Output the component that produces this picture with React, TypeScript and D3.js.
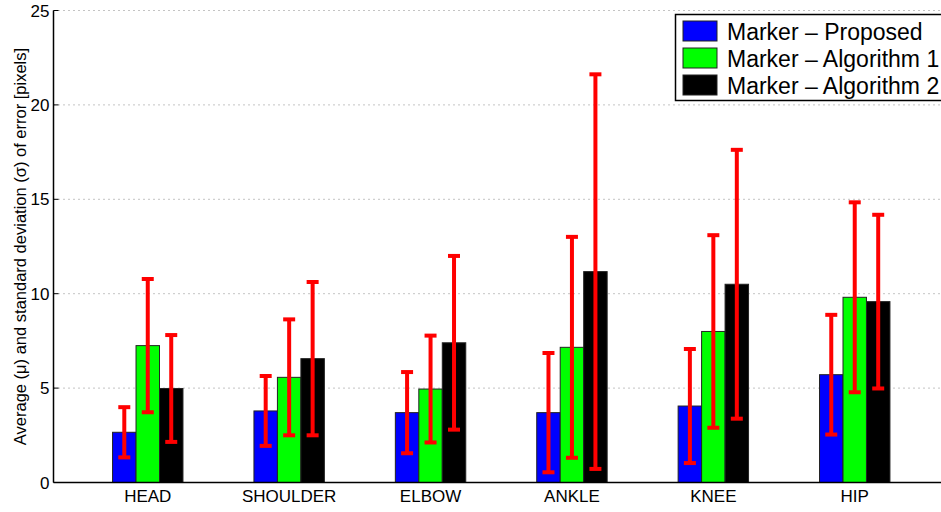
import React, { useRef, useEffect } from "react";
import * as d3 from "d3";

const categories = ["HEAD", "SHOULDER", "ELBOW", "ANKLE", "KNEE", "HIP"];
const seriesNames = ["Marker \u2013 Proposed", "Marker \u2013 Algorithm 1", "Marker \u2013 Algorithm 2"];
const seriesColors = ["#0000ff", "#00ff00", "#000000"];

// mean error per joint
const proposedMean = [2.66, 3.79, 3.7, 3.7, 4.05, 5.71];
const algo1Mean = [7.25, 5.57, 4.95, 7.16, 8.0, 9.81];
const algo2Mean = [4.98, 6.56, 7.4, 11.17, 10.5, 9.58];

// standard deviation per joint
const proposedStd = [1.33, 1.85, 2.15, 3.16, 3.02, 3.17];
const algo1Std = [3.53, 3.07, 2.83, 5.85, 5.1, 5.03];
const algo2Std = [2.83, 4.06, 4.6, 10.45, 7.12, 4.6];

const yTicks = [0, 5, 10, 15, 20, 25];

const W = 941;
const H = 512;

const App = () => {
  const svgRef = useRef<SVGSVGElement>(null);

  useEffect(() => {
    const svg = d3.select(svgRef.current);
    svg.selectAll("*").remove();

    const left = 53.5;
    const right = 949;
    const top = 10.5;
    const bottom = 482.5;
    const font = "'Liberation Sans', Arial, Helvetica, sans-serif";

    const means = [proposedMean, algo1Mean, algo2Mean];
    const stds = [proposedStd, algo1Std, algo2Std];

    const x = d3.scaleLinear().domain([1 / 3, categories.length + 2 / 3]).range([left, right]);
    const y = d3.scaleLinear().domain([0, 25]).range([bottom, top]);
    const barW = (x(2) - x(1)) * 0.166;

    // grid
    svg.append("g")
      .selectAll("line")
      .data(yTicks.filter(t => t > 0))
      .enter()
      .append("line")
      .attr("x1", left)
      .attr("x2", right)
      .attr("y1", d => y(d))
      .attr("y2", d => y(d))
      .attr("stroke", "#888")
      .attr("stroke-width", 1)
      .attr("stroke-dasharray", "1,4");

    // bars
    means.forEach((vals, s) => {
      svg.append("g")
        .selectAll("rect")
        .data(vals)
        .enter()
        .append("rect")
        .attr("x", (d, i) => x(i + 1) + (s - 1.5) * barW)
        .attr("y", d => y(d))
        .attr("width", barW)
        .attr("height", d => bottom - y(d))
        .attr("fill", seriesColors[s])
        .attr("stroke", "#222")
        .attr("stroke-width", 1);
    });

    // error bars
    means.forEach((vals, s) => {
      const g = svg.append("g").attr("stroke", "#ff0000").attr("stroke-width", 4);
      vals.forEach((m, i) => {
        const cx = x(i + 1) + (s - 1) * barW;
        const lo = y(m - stds[s][i]);
        const hi = y(m + stds[s][i]);
        g.append("line").attr("x1", cx).attr("x2", cx).attr("y1", lo).attr("y2", hi);
        g.append("line").attr("x1", cx - 6).attr("x2", cx + 6).attr("y1", lo).attr("y2", lo);
        g.append("line").attr("x1", cx - 6).attr("x2", cx + 6).attr("y1", hi).attr("y2", hi);
      });
    });

    // axes
    svg.append("line")
      .attr("x1", left).attr("x2", left).attr("y1", top).attr("y2", bottom)
      .attr("stroke", "#000").attr("stroke-width", 1.5);
    svg.append("line")
      .attr("x1", left).attr("x2", right).attr("y1", bottom).attr("y2", bottom)
      .attr("stroke", "#000").attr("stroke-width", 1.5);

    const yt = svg.append("g");
    yt.selectAll("line")
      .data(yTicks)
      .enter()
      .append("line")
      .attr("x1", left).attr("x2", left + 5)
      .attr("y1", d => y(d)).attr("y2", d => y(d))
      .attr("stroke", "#000");
    yt.selectAll("text")
      .data(yTicks)
      .enter()
      .append("text")
      .attr("x", left - 4)
      .attr("y", d => y(d))
      .attr("dy", "0.36em")
      .attr("text-anchor", "end")
      .attr("font-family", font)
      .attr("font-size", 17)
      .text(d => d);

    svg.append("g")
      .selectAll("text")
      .data(categories)
      .enter()
      .append("text")
      .attr("x", (d, i) => x(i + 1))
      .attr("y", 502)
      .attr("text-anchor", "middle")
      .attr("font-family", font)
      .attr("font-size", 17)
      .text(d => d);

    svg.append("text")
      .attr("transform", `translate(26,${(top + bottom) / 2}) rotate(-90)`)
      .attr("text-anchor", "middle")
      .attr("font-family", font)
      .attr("font-size", 16.5)
      .text("Average (\u03bc) and standard deviation (\u03c3) of error [pixels]");

    // legend
    const lg = svg.append("g");
    lg.append("rect")
      .attr("x", 675.5).attr("y", 14.5)
      .attr("width", 290).attr("height", 86)
      .attr("fill", "#fff").attr("stroke", "#000").attr("stroke-width", 1.5);
    seriesNames.forEach((name, s) => {
      const ry = 21 + s * 27;
      lg.append("rect")
        .attr("x", 683).attr("y", ry)
        .attr("width", 34).attr("height", 20)
        .attr("fill", seriesColors[s]).attr("stroke", "#222");
      lg.append("text")
        .attr("x", 727).attr("y", ry + 10.5)
        .attr("dy", "0.36em")
        .attr("font-family", font)
        .attr("font-size", 23)
        .text(name);
    });
  }, []);

  return (
    <svg
      ref={svgRef}
      width={W}
      height={H}
      style={{ position: "absolute", left: 0, top: 0, background: "#fff" }}
    />
  );
};

export default App;
